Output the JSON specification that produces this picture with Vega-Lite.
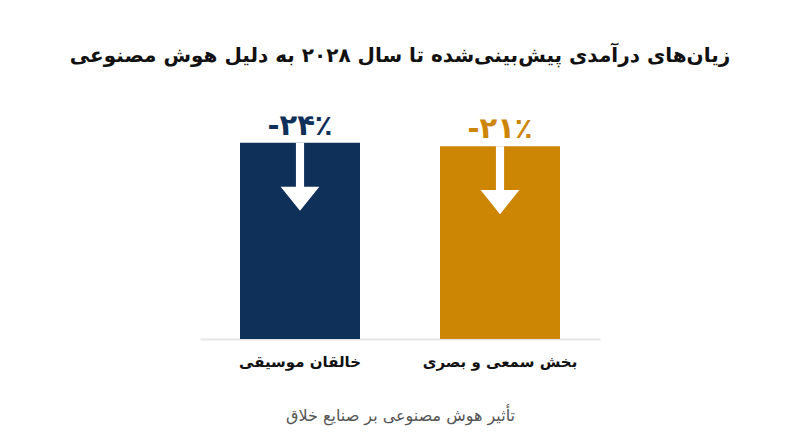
{
  "$schema": "https://vega.github.io/schema/vega-lite/v6.json",
  "autosize": "none",
  "width": 400,
  "height": 203,
  "padding": {"left": 200, "right": 200, "top": 136, "bottom": 108},
  "background": "white",
  "config": {
    "view": {"stroke": null},
    "font": "DejaVu Sans"
  },
  "title": {
    "text": "زیان‌های درآمدی پیش‌بینی‌شده تا سال ۲۰۲۸ به دلیل هوش مصنوعی",
    "anchor": "middle",
    "fontSize": 20,
    "fontWeight": "bold",
    "color": "#111111",
    "font": "DejaVu Sans",
    "baseline": "alphabetic",
    "offset": 30
  },
  "data": {
    "values": [
      {"sector": "خالقان موسیقی", "loss": 24, "label": "-۲۴٪"},
      {"sector": "بخش سمعی و بصری", "loss": 21, "label": "-۲۱٪"}
    ]
  },
  "encoding": {
    "x": {
      "field": "sector",
      "type": "nominal",
      "sort": null,
      "scale": {"paddingInner": 0.4, "paddingOuter": 0.2},
      "axis": {
        "title": "تأثیر هوش مصنوعی بر صنایع خلاق",
        "titleFontSize": 16,
        "titleFontWeight": "normal",
        "titleColor": "#555555",
        "titlePadding": 38,
        "labelAngle": 0,
        "labelFontSize": 15,
        "labelFontWeight": "bold",
        "labelColor": "#111111",
        "labelPadding": 15,
        "labelLimit": 300,
        "ticks": false,
        "domainColor": "#e6e6e6",
        "domainWidth": 2
      }
    },
    "y": {
      "field": "loss",
      "type": "quantitative",
      "scale": {"domain": [-150, 30], "zero": false, "nice": false},
      "axis": null
    },
    "color": {
      "field": "sector",
      "type": "nominal",
      "sort": null,
      "scale": {"range": ["#0f3059", "#cd8504"]},
      "legend": null
    }
  },
  "layer": [
    {
      "mark": {"type": "bar"},
      "encoding": {"y2": {"datum": -150}}
    },
    {
      "mark": {
        "type": "point",
        "shape": "M-0.12,-1L0.12,-1L0.12,0.29L0.57,0.29L0,1L-0.57,0.29L-0.12,0.29Z",
        "filled": true,
        "opacity": 1,
        "size": 4624,
        "yOffset": 34,
        "strokeWidth": 0
      },
      "encoding": {"color": {"value": "white"}}
    },
    {
      "mark": {
        "type": "text",
        "fontSize": 29,
        "fontWeight": "bold",
        "baseline": "alphabetic",
        "dy": -8
      },
      "encoding": {"text": {"field": "label"}}
    }
  ]
}
